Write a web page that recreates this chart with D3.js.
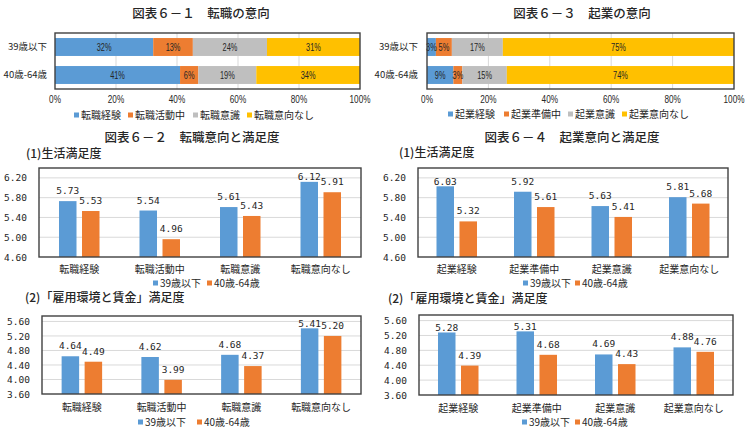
<!DOCTYPE html>
<html>
<head>
<meta charset="utf-8">
<script src="https://cdn.jsdelivr.net/npm/d3@7"></script>
<style>
  html, body { margin: 0; padding: 0; background: #fff; }
  svg { display: block; }
  .cjk { font-family: "Noto Sans CJK JP", "Noto Sans", sans-serif; }
  .mono { font-family: "DejaVu Sans Mono", "Liberation Mono", monospace; }
  .narrow { font-family: "Liberation Sans Narrow", "Liberation Sans", Arial, sans-serif; }
</style>
</head>
<body>
<svg id="chart" width="750" height="435"></svg>
<script>
// ---------- DATA ----------
const stackRows = ["39歳以下", "40歳-64歳"];
const series61 = ["転職経験", "転職活動中", "転職意識", "転職意向なし"];
const values61Young = [32.2, 13.0, 24.3, 30.5];
const values61Old = [41, 6, 19, 34];
const series63 = ["起業経験", "起業準備中", "起業意識", "起業意向なし"];
const values63Young = [2.9, 5.2, 16.6, 75.3];
const values63Old = [8.6, 2.9, 14.5, 74.0];
const pctTicks = [0, 20, 40, 60, 80, 100];

const groupSeries = ["39歳以下", "40歳-64歳"];
const cats62 = ["転職経験", "転職活動中", "転職意識", "転職意向なし"];
const life62Young = [5.73, 5.54, 5.61, 6.12];
const life62Old = [5.53, 4.96, 5.43, 5.91];
const wage62Young = [4.64, 4.62, 4.68, 5.41];
const wage62Old = [4.49, 3.99, 4.37, 5.20];
const cats64 = ["起業経験", "起業準備中", "起業意識", "起業意向なし"];
const life64Young = [6.03, 5.92, 5.63, 5.81];
const life64Old = [5.32, 5.61, 5.41, 5.68];
const wage64Young = [5.28, 5.31, 4.69, 4.88];
const wage64Old = [4.39, 4.68, 4.43, 4.76];
const lifeTicks = [4.6, 5.0, 5.4, 5.8, 6.2];
const wageTicks = [3.6, 4.0, 4.4, 4.8, 5.2, 5.6];

// ---------- STYLE ----------
const stackColors = ["#5B9BD5", "#ED7D31", "#BFBFBF", "#FFC000"];
const groupColors = ["#5B9BD5", "#ED7D31"];
const borderColor = "#404040";
const gridColor = "#D9D9D9";
const textColor = "#262626";

const svg = d3.select("#chart");

// condensed text: draw at origin and place with a horizontally-squeezed transform
function condensed(parent, cx, cy, text, size, f) {
  return parent.append("text").attr("class", "narrow")
    .attr("transform", `translate(${cx},${cy}) scale(${f},1)`)
    .attr("x", 0).attr("y", 0).attr("dy", "0.35em")
    .attr("text-anchor", "middle").attr("font-size", size).attr("fill", textColor)
    .text(text);
}

function title(text, cx, cy, size, anchor, weight) {
  svg.append("text").attr("class", "cjk")
    .attr("x", cx).attr("y", cy).attr("dy", "0.35em")
    .attr("text-anchor", anchor || "middle")
    .attr("font-size", size).attr("font-weight", weight || 500)
    .attr("fill", textColor).text(text);
}

function legend(names, colors, xs, y) {
  names.forEach((n, i) => {
    svg.append("rect").attr("x", xs[i]).attr("y", y - 2.5).attr("width", 5).attr("height", 5)
      .attr("fill", colors[i]);
    svg.append("text").attr("class", "cjk").attr("x", xs[i] + 7).attr("y", y).attr("dy", "0.35em")
      .attr("font-size", 10).attr("fill", textColor).text(n);
  });
}

function stacked(cfg) {
  const x = d3.scaleLinear().domain([0, 100]).range([cfg.x0, cfg.x1]);
  const y = d3.scaleBand().domain(stackRows).range([cfg.y0, cfg.y1]).paddingInner(0.36).paddingOuter(0.18);
  const g = svg.append("g");
  g.append("g").selectAll("line").data(pctTicks.slice(1, -1)).join("line")
    .attr("x1", d => x(d)).attr("x2", d => x(d)).attr("y1", cfg.y0).attr("y2", cfg.y1)
    .attr("stroke", gridColor).attr("stroke-width", 1);
  cfg.rows.forEach((vals, r) => {
    let acc = 0;
    vals.forEach((v, i) => {
      const a = acc; acc += v;
      g.append("rect").attr("x", x(a)).attr("width", x(acc) - x(a))
        .attr("y", y(stackRows[r])).attr("height", y.bandwidth()).attr("fill", stackColors[i]);
    });
    acc = 0;
    vals.forEach((v) => {
      const a = acc; acc += v;
      condensed(g, (x(a) + x(acc)) / 2, y(stackRows[r]) + y.bandwidth() / 2, Math.round(v) + "%", 10, 0.74);
    });
  });
  g.append("rect").attr("x", cfg.x0).attr("y", cfg.y0).attr("width", cfg.x1 - cfg.x0).attr("height", cfg.y1 - cfg.y0)
    .attr("fill", "none").attr("stroke", borderColor).attr("stroke-width", 1.4);
  const ya = d3.axisLeft(y).tickSize(0).tickPadding(0);
  const yg = g.append("g").attr("transform", `translate(${cfg.catRight},0)`).call(ya);
  yg.select(".domain").remove();
  yg.selectAll("text").attr("class", "cjk").attr("font-size", 9.5).attr("fill", textColor).attr("font-family", null);
  // percentage axis labels (positions from the scale)
  const xg = g.append("g");
  pctTicks.forEach(t => condensed(xg, x(t), cfg.y1 + 10, t + "%", 10, 0.82));
  title(cfg.title, cfg.titleX, 14, 12.5);
  legend(cfg.series, stackColors, cfg.legendXs, cfg.legendY);
}

function grouped(cfg) {
  const x = d3.scaleBand().domain(cfg.cats).range([cfg.x0, cfg.x1]);
  const y = d3.scaleLinear().domain(cfg.domain).range([cfg.y1, cfg.y0]);
  const g = svg.append("g");
  g.append("g").selectAll("line").data(cfg.ticks.slice(1)).join("line")
    .attr("x1", cfg.x0).attr("x2", cfg.x1).attr("y1", d => y(d)).attr("y2", d => y(d))
    .attr("stroke", gridColor).attr("stroke-width", 1);
  const bw = 17.5, gap = 5.5;
  const offs = [-(gap / 2 + bw / 2), gap / 2 + bw / 2];
  [cfg.young, cfg.old].forEach((vals, s) => {
    vals.forEach((v, i) => {
      const cx = x(cfg.cats[i]) + x.bandwidth() / 2 + offs[s];
      const top = y(v);
      g.append("rect").attr("x", cx - bw / 2).attr("width", bw)
        .attr("y", top).attr("height", cfg.y1 - top).attr("fill", groupColors[s]);
      const base = (top - cfg.y0 < 19.5) ? top - 1.5 : top - 7;
      g.append("text").attr("class", "mono").attr("x", cx).attr("y", base)
        .attr("text-anchor", "middle").attr("font-size", 9.5).attr("fill", textColor)
        .text(d3.format(".2f")(v));
    });
  });
  g.append("rect").attr("x", cfg.x0).attr("y", cfg.y0).attr("width", cfg.x1 - cfg.x0).attr("height", cfg.y1 - cfg.y0)
    .attr("fill", "none").attr("stroke", borderColor).attr("stroke-width", 1.4);
  const ya = d3.axisLeft(y).tickValues(cfg.ticks).tickFormat(d3.format(".2f")).tickSize(0).tickPadding(0);
  const yg = g.append("g").attr("transform", `translate(${cfg.x0 - 12},0)`).call(ya);
  yg.select(".domain").remove();
  yg.selectAll("text").attr("class", "mono").attr("font-size", 9.5).attr("fill", textColor).attr("font-family", null);
  const xa = d3.axisBottom(x).tickSize(0).tickPadding(0);
  const xg = g.append("g").attr("transform", `translate(0,${cfg.catY})`).call(xa);
  xg.select(".domain").remove();
  xg.selectAll("text").attr("class", "cjk").attr("font-size", 10).attr("fill", textColor)
    .attr("font-family", null).attr("dy", "0.35em");
  title(cfg.subtitle, cfg.subX, cfg.subY, 12, "start");
  legend(groupSeries, groupColors, cfg.legendXs, cfg.legendY);
}

stacked({ x0: 55, x1: 360, y0: 33, y1: 89, catRight: 47, rows: [values61Young, values61Old], series: series61,
  title: "図表６－１　転職の意向", titleX: 201, legendXs: [74, 128, 193, 247], legendY: 115 });
stacked({ x0: 427, x1: 734, y0: 33, y1: 89, catRight: 418, rows: [values63Young, values63Old], series: series63,
  title: "図表６－３　起業の意向", titleX: 582, legendXs: [448, 504, 568, 622], legendY: 114 });

title("図表６－２　転職意向と満足度", 192, 137.5, 12.5);
title("図表６－４　起業意向と満足度", 572, 137.5, 12.5);

grouped({ x0: 39, x1: 361, y0: 168, y1: 257, domain: [4.6, 6.4], ticks: lifeTicks, cats: cats62,
  young: life62Young, old: life62Old, catY: 269, subtitle: "(1)生活満足度", subX: 26, subY: 154,
  legendXs: [153, 207], legendY: 283 });
grouped({ x0: 42, x1: 361, y0: 316, y1: 394, domain: [3.6, 5.75], ticks: wageTicks, cats: cats62,
  young: wage62Young, old: wage62Old, catY: 407, subtitle: "(2)「雇用環境と賃金」満足度", subX: 25, subY: 298,
  legendXs: [138, 197], legendY: 422 });
grouped({ x0: 418, x1: 728, y0: 168, y1: 257, domain: [4.6, 6.4], ticks: lifeTicks, cats: cats64,
  young: life64Young, old: life64Old, catY: 269, subtitle: "(1)生活満足度", subX: 399, subY: 153,
  legendXs: [523, 575], legendY: 283 });
grouped({ x0: 419, x1: 733, y0: 315, y1: 395, domain: [3.6, 5.75], ticks: wageTicks, cats: cats64,
  young: wage64Young, old: wage64Old, catY: 408, subtitle: "(2)「雇用環境と賃金」満足度", subX: 388, subY: 299,
  legendXs: [522, 575], legendY: 422 });
</script>
</body>
</html>
